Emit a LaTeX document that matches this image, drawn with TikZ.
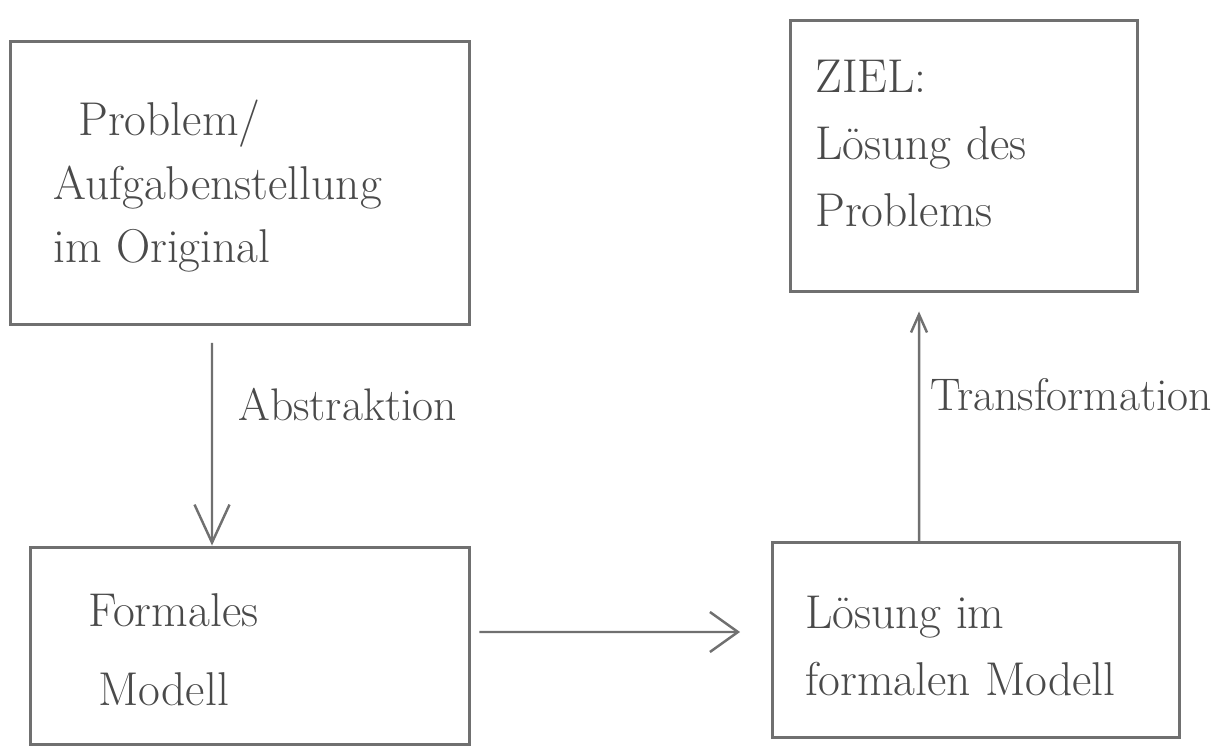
\documentclass[tikz,border=0pt]{standalone}
\usetikzlibrary{arrows.meta}
\definecolor{pencil}{HTML}{707070}
\definecolor{ink}{HTML}{4A4A4A}

\begin{document}
\begin{tikzpicture}[x=0.02cm,y=-0.02cm]
        \tikzstyle{every node}+=[inner sep=0pt]
        \tikzstyle{box}=[draw=pencil, line width=1.7pt, rectangle]
        \tikzstyle{hand}=[text=ink, font=\fontsize{27}{36}\selectfont, align=left, anchor=north west]
        \tikzstyle{pen}=[draw=pencil, line width=1.4pt]
        \useasboundingbox (0,0) rectangle (1224,753);
        % boxes
        \node [box, minimum width=9.2cm, minimum height=5.66cm] (problem) at (240,183) {};
        \node [box, minimum width=6.96cm, minimum height=5.44cm] (goal) at (964,156) {};
        \node [box, minimum width=8.8cm, minimum height=3.96cm] (formal) at (250,646) {};
        \node [box, minimum width=8.14cm, minimum height=3.9cm] (solution) at (976,640) {};
        % texts
        \node [hand] (problemtext) at (53,100) {\hspace*{0.5cm}Problem/\\Aufgabenstellung\\im Original};
        \node [hand, font=\fontsize{27}{38}\selectfont] (goaltext) at (815,60) {ZIEL:\\L\"osung des\\Problems};
        \node [hand, font=\fontsize{27}{45}\selectfont] (formaltext) at (88,593) {Formales\\\hspace*{0.2cm}Modell};
        \node [hand, font=\fontsize{27}{38}\selectfont] (solutiontext) at (805,596) {L\"osung im\\formalen Modell};
        % connectors
        \draw [pen, -{Straight Barb[length=0.76cm, width=0.7cm]}, shorten <=0.34cm]
            ([xshift=-0.56cm]problem.south) -- ([xshift=-0.76cm]formal.north);
        \node [hand, font=\fontsize{26}{36}\selectfont, anchor=base west] (abstraction) at (238,420) {Abstraktion};
        \draw [pen, -{Straight Barb[length=0.56cm, width=0.8cm]}, shorten <=0.16cm, shorten >=0.62cm]
            ([yshift=0.28cm]formal.east) -- ([yshift=0.16cm]solution.west);
        \draw [pen, -{Straight Barb[length=0.36cm, width=0.32cm]}, shorten >=0.36cm]
            ([xshift=-1.14cm]solution.north) -- ([xshift=-0.9cm]goal.south);
        \node [hand, font=\fontsize{26}{36}\selectfont, anchor=base west] (transformation) at (930,410) {Transformation};
\end{tikzpicture}
\end{document}
